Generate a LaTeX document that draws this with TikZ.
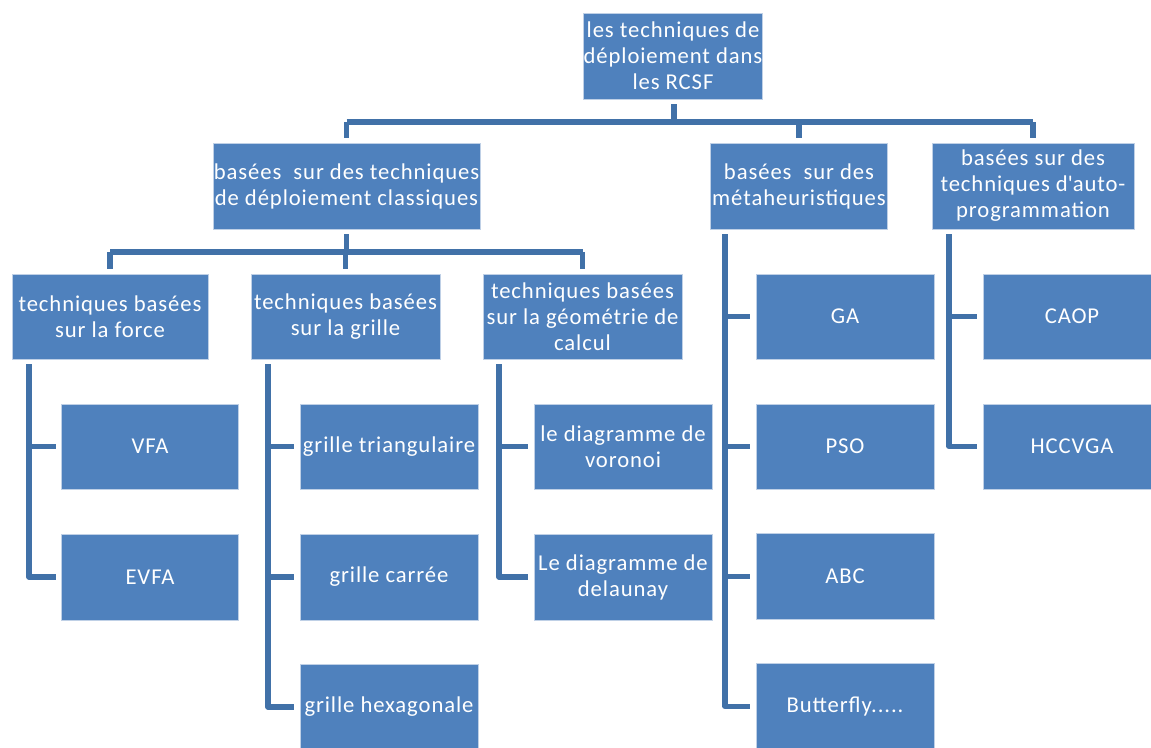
\documentclass[tikz,border=0pt]{standalone}
\usepackage{fontspec}
\setmainfont{Carlito}[LetterSpace=4]
\definecolor{boxblue}{HTML}{4F81BD}
\definecolor{boxedge}{HTML}{BFD0E6}
\definecolor{linkblue}{HTML}{4171A8}
\begin{document}
\begin{tikzpicture}[x=0.75pt,y=-0.75pt,
  box/.style 2 args={draw=boxedge, line width=0.6pt, fill=boxblue,
    text=white, align=center, inner sep=0pt,
    minimum width=#1*0.75pt, minimum height=#2*0.75pt,
    font=\fontsize{17}{19.5}\selectfont},
  conn/.style={draw=linkblue, line width=4pt, line join=round}]
\useasboundingbox (0,0) rectangle (1151,747);

% level 0
\node[box={178}{86}] (root) at (673,56) {les techniques de\\déploiement dans\\les RCSF};
% level 1
\node[box={267}{86}] (classic) at (346.5,186) {basées\ \ sur des techniques\\de déploiement classiques};
\node[box={177}{86}] (meta) at (799,186) {basées\ \ sur des\\métaheuristiques};
\node[box={202}{86}] (auto) at (1033,186) {basées sur des\\techniques d\textquotesingle auto-\\programmation};
% level 2
\node[box={196}{85}] (force) at (110,316.5) {techniques basées\\sur la force};
\node[box={189}{85}] (grille) at (345.5,316.5) {techniques basées\\sur la grille};
\node[box={199}{85}] (geom) at (582.5,316.5) {techniques basées\\sur la géométrie de\\calcul};
% leaves
\node[box={177}{85}] (vfa) at (150,446.5) {VFA};
\node[box={177}{86}] (evfa) at (150,577) {EVFA};
\node[box={178}{85}] (tri) at (389,446.5) {grille triangulaire};
\node[box={178}{86}] (carre) at (389,577) {grille carrée};
\node[box={178}{86}] (hexa) at (389,707) {grille hexagonale};
\node[box={178}{85}] (voronoi) at (623,446.5) {le diagramme de\\voronoi};
\node[box={178}{86}] (delaunay) at (623,577) {Le diagramme de\\delaunay};
\node[box={178}{85}] (ga) at (845,316.5) {GA};
\node[box={178}{85}] (pso) at (845,446.5) {PSO};
\node[box={178}{86}] (abc) at (845,576.5) {ABC};
\node[box={178}{86}] (butterfly) at (845,706.5) {Butterfly.....};
\node[box={178}{85}] (caop) at (1072,316.5) {CAOP};
\node[box={178}{85}] (hccvga) at (1072,446.5) {HCCVGA};

% bars of the tree
\coordinate (bar0) at (674,122);
\coordinate (bar1) at (346.5,252);
\draw[conn, shorten <=3.75pt] (root.south -| bar0) -- (bar0);
\draw[conn] (classic.north |- bar0) -- (auto.north |- bar0);
\foreach \n in {classic,meta,auto}
  \draw[conn, shorten >=3.75pt] (\n.north |- bar0) -- (\n.north);
\draw[conn, shorten <=3.75pt] (classic.south -| bar1) -- (bar1);
\draw[conn] (force.north |- bar1) -- (geom.north |- bar1);
\foreach \n in {force,grille,geom}
  \draw[conn, shorten >=3.75pt] (\n.north |- bar1) -- (\n.north);

% side spines
\coordinate (sforce) at (29,364);
\coordinate (sgrille) at (268,364);
\coordinate (sgeom) at (499,364);
\coordinate (smeta) at (725,234);
\coordinate (sauto) at (949,234);
\draw[conn, shorten >=4pt] (sforce) |- (evfa.west);
\draw[conn, shorten >=4pt] (sforce |- vfa.west) -- (vfa.west);
\draw[conn, shorten >=4pt] (sgrille) |- (hexa.west);
\foreach \n in {tri,carre}
  \draw[conn, shorten >=4pt] (sgrille |- \n.west) -- (\n.west);
\draw[conn, shorten >=4pt] (sgeom) |- (delaunay.west);
\draw[conn, shorten >=4pt] (sgeom |- voronoi.west) -- (voronoi.west);
\draw[conn, shorten >=4pt] (smeta) |- (butterfly.west);
\foreach \n in {ga,pso,abc}
  \draw[conn, shorten >=4pt] (smeta |- \n.west) -- (\n.west);
\draw[conn, shorten >=4pt] (sauto) |- (hccvga.west);
\draw[conn, shorten >=4pt] (sauto |- caop.west) -- (caop.west);
\end{tikzpicture}
\end{document}
